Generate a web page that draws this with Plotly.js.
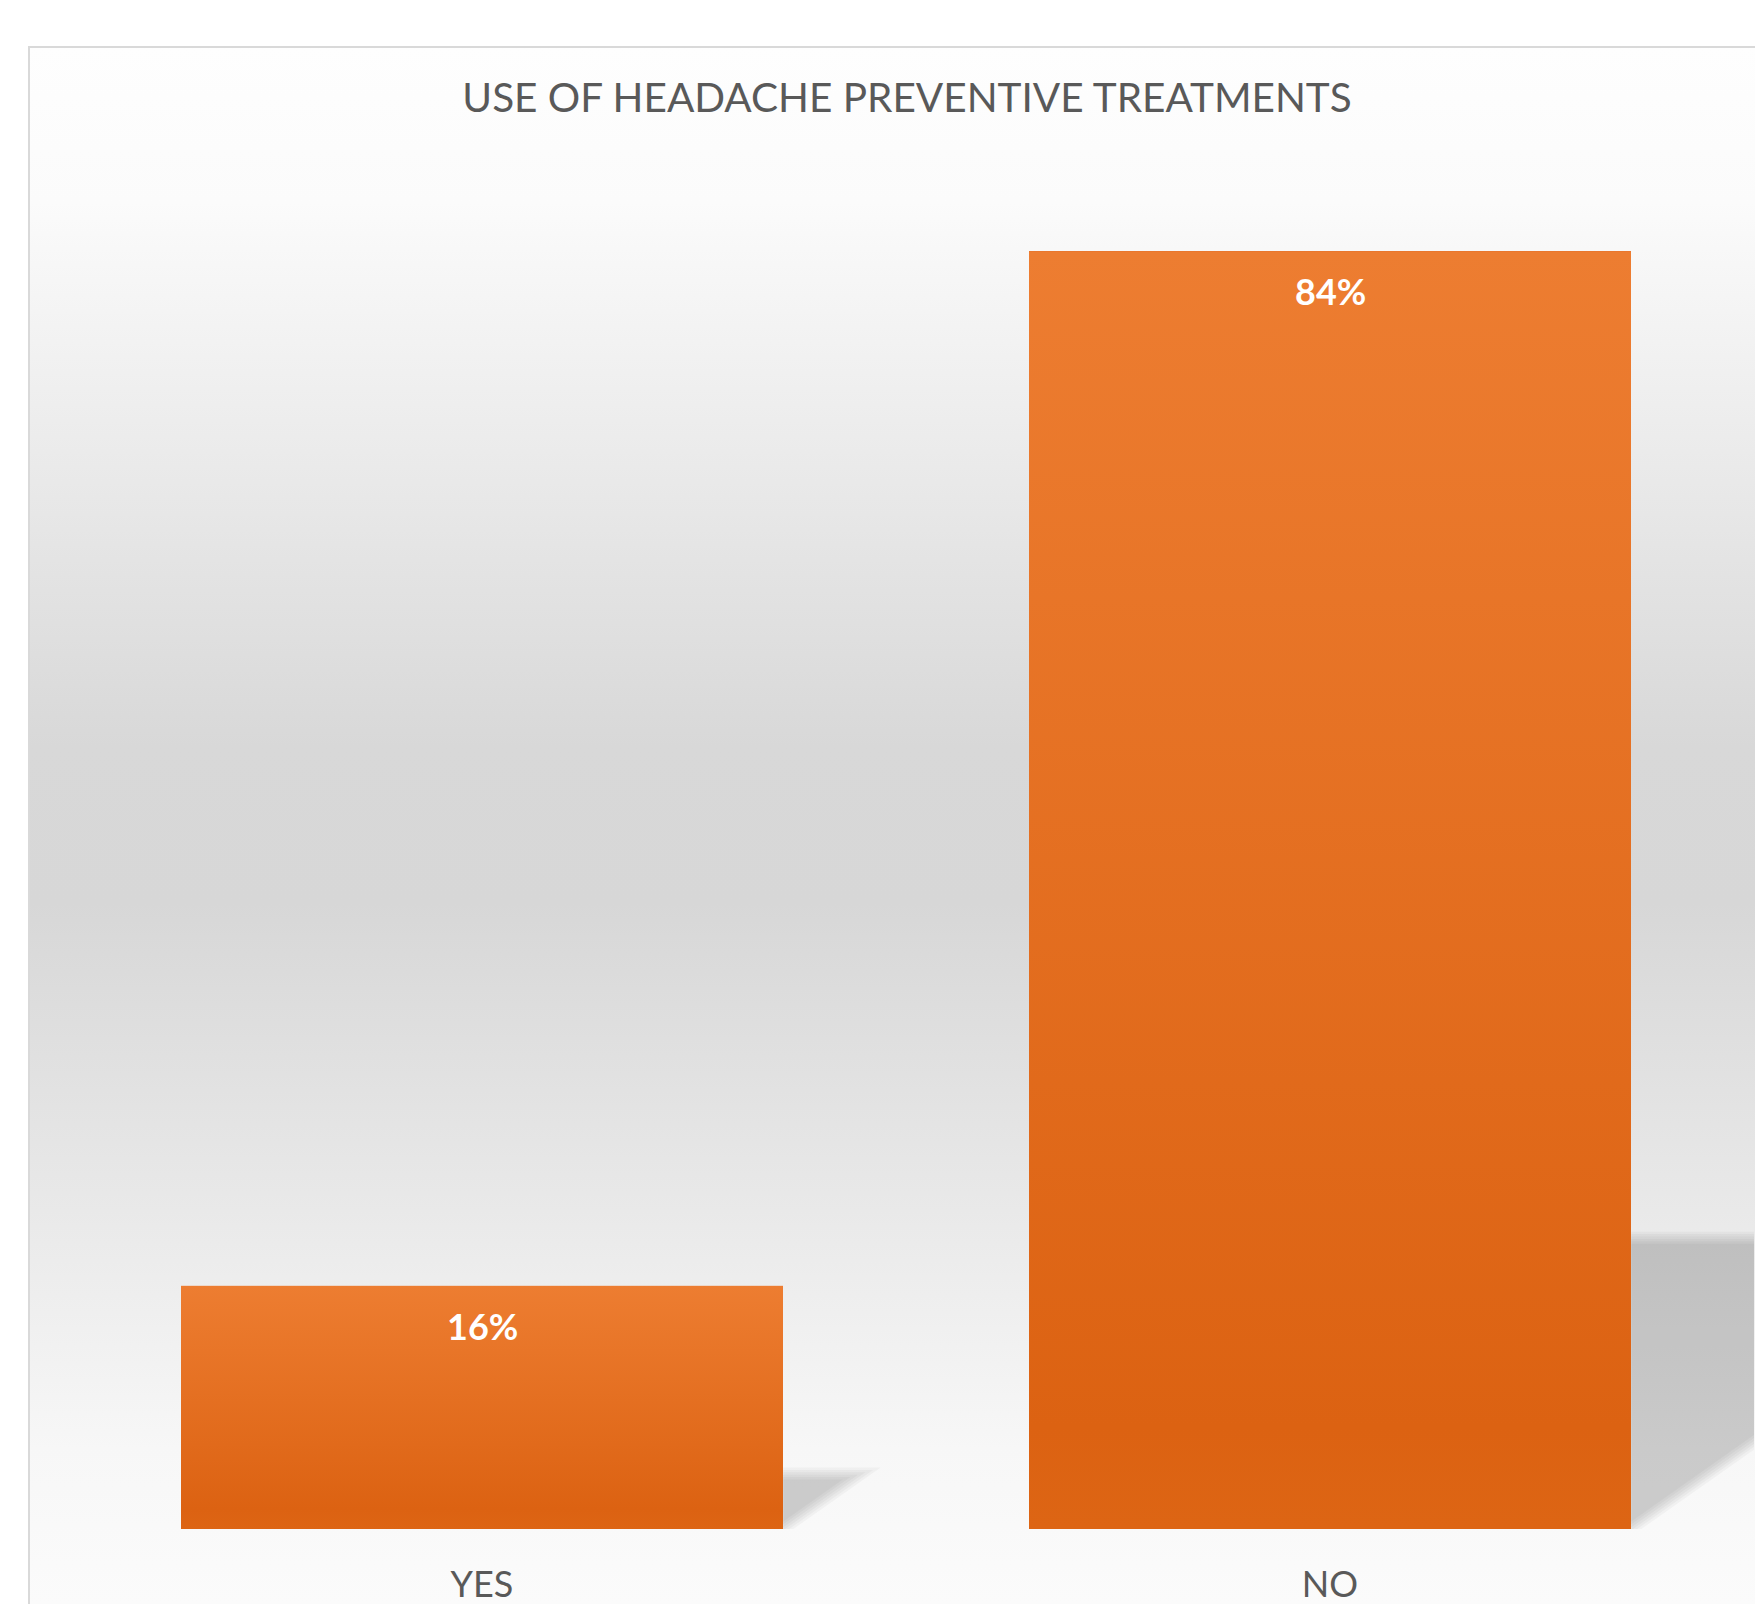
<!DOCTYPE html>
<html>
<head>
<meta charset="utf-8">
<script src="https://cdn.plot.ly/plotly-3.0.1.min.js"></script>
<style>
html, body { margin: 0; padding: 0; background: #ffffff; }
#chart { width: 1755px; height: 1604px; }
</style>
</head>
<body>
<div id="chart"></div>
<script>
// ---------------- data ----------------
const categories = ['YES', 'NO'];
const shares = [16, 84];               // percent of respondents
const valueSuffix = '%';
const chartTitle = 'USE OF HEADACHE PREVENTIVE TREATMENTS';

// ---------------- layout constants ----------------
const FIG_W = 1755, FIG_H = 1604;
const M = { l: 58, r: 1, t: 160, b: 75 };
const XR = [-0.5, 1.5], YR = [0, 90];
const plotW = FIG_W - M.l - M.r, plotH = FIG_H - M.t - M.b;
const pxX = plotW / (XR[1] - XR[0]);
const pxY = plotH / (YR[1] - YR[0]);
const BAR_W = 0.71;
const FONT = 'Lato, "Open Sans", sans-serif';
const TEXT_GREY = '#595959';

const xs = categories.map((c, i) => i);

function svgURI(svg) { return 'data:image/svg+xml;charset=utf-8,' + encodeURIComponent(svg); }

// chart-area background (grey vertical gradient with thin border)
const bgLeft = 28, bgTop = 46;
const bgW = FIG_W - bgLeft, bgH = FIG_H - bgTop;
const bgSvg =
  `<svg xmlns="http://www.w3.org/2000/svg" width="${bgW}" height="${bgH}" viewBox="0 0 ${bgW} ${bgH}" preserveAspectRatio="none">` +
  `<defs><linearGradient id="g" x1="0" y1="0" x2="0" y2="1">` +
  `<stop offset="0" stop-color="#fefefe"/><stop offset="0.1" stop-color="#fbfbfb"/>` +
  `<stop offset="0.45" stop-color="#d8d8d8"/><stop offset="0.55" stop-color="#d7d7d7"/>` +
  `<stop offset="0.9" stop-color="#f7f7f7"/><stop offset="1" stop-color="#fbfbfb"/>` +
  `</linearGradient></defs>` +
  `<rect x="0" y="0" width="${bgW}" height="${bgH}" fill="url(#g)"/>` +
  `<path d="M1 ${bgH} V1 H${bgW}" fill="none" stroke="#d9d9d9" stroke-width="2"/></svg>`;

// bar gradient
const barSvg =
  `<svg xmlns="http://www.w3.org/2000/svg" width="100" height="100" viewBox="0 0 100 100" preserveAspectRatio="none">` +
  `<defs><linearGradient id="b" x1="0" y1="0" x2="0" y2="1">` +
  `<stop offset="0" stop-color="#ED7D31"/><stop offset="0.92" stop-color="#DC6212"/><stop offset="1" stop-color="#DD6514"/>` +
  `</linearGradient></defs><rect x="0" y="0" width="100" height="100" fill="url(#b)"/></svg>`;

const images = [{
  source: svgURI(bgSvg),
  xref: 'paper', yref: 'paper',
  x: (bgLeft - M.l) / plotW,
  y: (FIG_H - M.b - bgTop) / plotH,
  sizex: bgW / plotW, sizey: bgH / plotH,
  xanchor: 'left', yanchor: 'top',
  sizing: 'stretch', layer: 'below'
}];
xs.forEach((x, i) => {
  images.push({
    source: svgURI(barSvg),
    xref: 'x', yref: 'y',
    x: x - BAR_W / 2, y: shares[i],
    sizex: BAR_W, sizey: shares[i],
    xanchor: 'left', yanchor: 'top',
    sizing: 'stretch', layer: 'above'
  });
});

// soft perspective shadows to the right of each bar
const SHADOW_H = 0.228, SHADOW_SLANT = 1.42, BLUR_STEP = 2.4;
const shapes = [];
const slope = 1 / SHADOW_SLANT;
xs.forEach((x, i) => {
  const xr = x + BAR_W / 2;
  const topPx = shares[i] * SHADOW_H * pxY;
  for (let k = -2.5; k <= 2.5; k += 1) {
    const d = k * BLUR_STEP;
    const topK = topPx - d;
    const bK = d * Math.sqrt(1 + slope * slope);
    const cornerPx = (topK - bK) / slope;
    const p0 = [xr, bK / pxY];
    const p1 = [xr, topK / pxY];
    const p2 = [xr + cornerPx / pxX, topK / pxY];
    shapes.push({
      type: 'path', xref: 'x', yref: 'y', layer: 'below',
      path: `M ${p0[0]} ${p0[1]} L ${p1[0]} ${p1[1]} L ${p2[0]} ${p2[1]} Z`,
      fillcolor: 'rgba(0,0,0,0.031)', line: { width: 0 }
    });
  }
});

// value labels inside top of bars
const annotations = xs.map((x, i) => ({
  x: x, y: shares[i], xref: 'x', yref: 'y',
  text: shares[i] + valueSuffix,
  showarrow: false, yanchor: 'top', xanchor: 'center', yshift: -16,
  font: { family: FONT, size: 36, color: '#ffffff', weight: 'bold' }
}));

const trace = {
  type: 'bar',
  x: xs, y: shares,
  width: BAR_W,
  marker: { color: '#E5702A', line: { width: 0 } },
  hoverinfo: 'skip',
  showlegend: false
};

const layout = {
  width: FIG_W, height: FIG_H,
  margin: M,
  paper_bgcolor: '#ffffff',
  plot_bgcolor: 'rgba(0,0,0,0)',
  font: { family: FONT, color: TEXT_GREY },
  title: {
    text: chartTitle,
    font: { family: FONT, size: 40.5, color: TEXT_GREY },
    xref: 'container', yref: 'container',
    x: 907 / FIG_W, xanchor: 'center',
    y: 1 - 98 / FIG_H, yanchor: 'middle'
  },
  xaxis: {
    range: XR, tickvals: xs, ticktext: categories,
    showgrid: false, zeroline: false, showline: false, ticks: '',
    tickfont: { family: FONT, size: 36, color: TEXT_GREY },
    ticklabelstandoff: 31, fixedrange: true
  },
  yaxis: { range: YR, visible: false, showgrid: false, zeroline: false, fixedrange: true },
  images: images,
  shapes: shapes,
  annotations: annotations,
  bargap: 0
};

Plotly.newPlot('chart', [trace], layout, { displayModeBar: false, staticPlot: true });
</script>
</body>
</html>
